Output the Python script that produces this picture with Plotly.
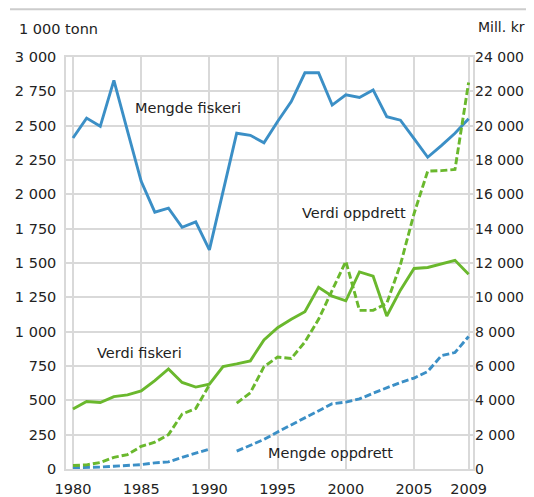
import plotly.graph_objects as go

years = list(range(1980, 2010))

# 1 000 tonn (left axis)
mengde_fiskeri = [2410, 2555, 2495, 2830, 2460, 2095, 1870, 1900, 1760, 1800,
                  1595, 2020, 2445, 2430, 2375, 2530, 2675, 2885, 2885, 2650,
                  2725, 2705, 2760, 2565, 2540, 2405, 2270, 2355, 2445, 2550]
mengde_oppdrett = [10, 10, 14, 20, 25, 32, 45, 52, 85, 115,
                   145, None, 130, 170, 215, 270, 322, 370, 420, 475,
                   487, 510, 552, 590, 630, 662, 710, 825, 848, 965]

# Mill. kr (right axis)
verdi_fiskeri = [3490, 3930, 3870, 4220, 4320, 4550, 5150, 5830, 5040, 4770,
                 4940, 5970, 6120, 6300, 7520, 8230, 8720, 9160, 10580, 10070,
                 9800, 11480, 11230, 8910, 10420, 11680, 11740, 11930, 12160, 11350]
verdi_oppdrett = [200, 240, 380, 680, 840, 1320, 1560, 2000, 3200, 3520,
                  4900, None, 3840, 4440, 5960, 6520, 6440, 7400, 8720, 10420,
                  12100, 9240, 9240, 9650, 11900, 14880, 17350, 17380, 17450, 22520]

x_ticks = [1980, 1985, 1990, 1995, 2000, 2005, 2009]
left_ticks = [0, 250, 500, 750, 1000, 1250, 1500, 1750, 2000, 2250, 2500, 2750, 3000]
left_labels = ["0", "250", "500", "750", "1 000", "1 250", "1 500", "1 750",
               "2 000", "2 250", "2 500", "2 750", "3 000"]
right_ticks = list(range(0, 24001, 2000))
right_labels = ["0", "2 000", "4 000", "6 000", "8 000", "10 000", "12 000",
                "14 000", "16 000", "18 000", "20 000", "22 000", "24 000"]

BLUE = "#3b8fc6"
GREEN = "#6ab82d"
FONT = "DejaVu Sans"
TXT = "#222222"
GRID = "#d9d9d9"

# the page body adds an 8px offset, so the figure is drawn 8px smaller
OFF = 8
W, H = 534 - OFF, 497 - OFF
ML, MR, MT, MB = 66 - OFF, 61, 57 - OFF, 28
PW, PH = W - ML - MR, H - MT - MB


def px(x):
    return (x - OFF - ML) / PW


def py(y):
    return (H - MB - (y - OFF)) / PH


fig = go.Figure()
fig.add_trace(go.Scatter(x=years, y=mengde_fiskeri, mode="lines",
                         line=dict(color=BLUE, width=2.9), yaxis="y"))
fig.add_trace(go.Scatter(x=years, y=mengde_oppdrett, mode="lines",
                         line=dict(color=BLUE, width=2.9, dash="7px,3px"), yaxis="y"))
fig.add_trace(go.Scatter(x=years, y=verdi_fiskeri, mode="lines",
                         line=dict(color=GREEN, width=2.9), yaxis="y2"))
fig.add_trace(go.Scatter(x=years, y=verdi_oppdrett, mode="lines",
                         line=dict(color=GREEN, width=2.9, dash="7px,3px"), yaxis="y2"))

fig.update_layout(
    template="none",
    width=W, height=H,
    margin=dict(l=ML, r=MR, t=MT, b=MB, autoexpand=False),
    paper_bgcolor="white", plot_bgcolor="white",
    showlegend=False,
    font=dict(family=FONT, size=14.5, color=TXT),
    xaxis=dict(range=[1979.49, 2009.32], tickvals=x_ticks,
               ticktext=[str(v) for v in x_ticks], automargin=False,
               showgrid=True, gridcolor=GRID, gridwidth=1.5,
               showline=True, linecolor=GRID, linewidth=1.5, mirror=True,
               zeroline=False, ticks="", ticklabelstandoff=6,
               tickfont=dict(family=FONT, size=14.5, color=TXT)),
    yaxis=dict(range=[0, 3000], tickvals=left_ticks, ticktext=left_labels,
               automargin=False,
               showgrid=True, gridcolor=GRID, gridwidth=1.5,
               showline=True, linecolor=GRID, linewidth=1.5, mirror=True,
               zeroline=False, ticks="", ticklabelstandoff=5,
               tickfont=dict(family=FONT, size=14.5, color=TXT)),
    yaxis2=dict(range=[0, 24000], tickvals=right_ticks, ticktext=right_labels,
                automargin=False,
                overlaying="y", side="right", showgrid=False, zeroline=False,
                showline=False, ticks="", ticklabelstandoff=1,
                tickfont=dict(family=FONT, size=14, color=TXT)),
)

ann = dict(showarrow=False, font=dict(family=FONT, size=14.5, color=TXT))
fig.add_annotation(x=1988.45, y=2631, xref="x", yref="y", text="Mengde fiskeri", **ann)
fig.add_annotation(x=2000.62, y=1866, xref="x", yref="y", text="Verdi oppdrett", **ann)
fig.add_annotation(x=1984.86, y=847, xref="x", yref="y", text="Verdi fiskeri", **ann)
fig.add_annotation(x=1998.86, y=119, xref="x", yref="y", text="Mengde oppdrett", **ann)

# axis unit labels
fig.add_annotation(x=px(17), y=py(29), xref="paper", yref="paper",
                   xanchor="left", yanchor="middle", text="1 000 tonn", **ann)
fig.add_annotation(x=px(527), y=py(27.5), xref="paper", yref="paper",
                   xanchor="right", yanchor="middle", text="Mill. kr",
                   showarrow=False, font=dict(family=FONT, size=14, color=TXT))

# top separator line
fig.add_shape(type="line", xref="paper", yref="paper",
              x0=px(10), x1=px(534), y0=py(9.3), y1=py(9.3),
              line=dict(color="#cccccc", width=2))

fig.write_html("out.html")
